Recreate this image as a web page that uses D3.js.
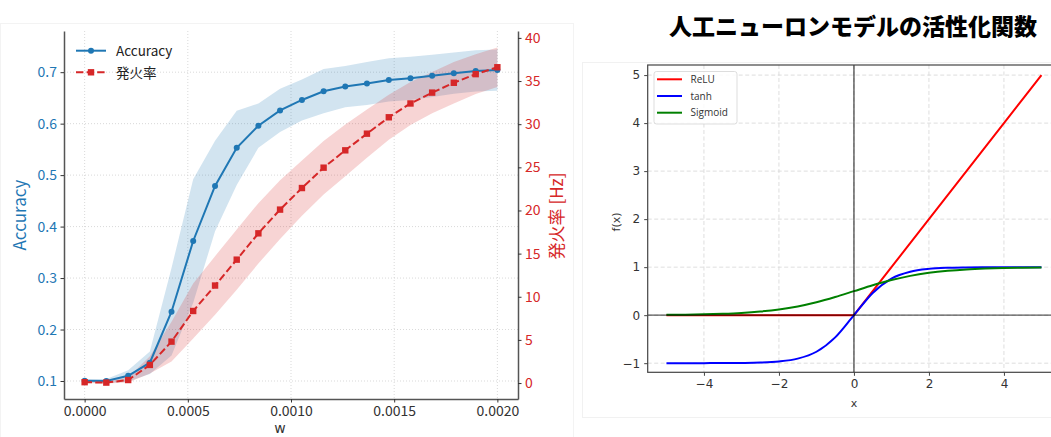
<!DOCTYPE html>
<html>
<head>
<meta charset="utf-8">
<script src="https://cdn.jsdelivr.net/npm/d3@7"></script>
<style>
  body { margin: 0; background: #fff; }
  svg { display: block; }
</style>
</head>
<body>
<div id="chart"></div>
<script>
// DATA //

// left panel: weight w vs accuracy / firing rate
const wValues = [0, 0.000105, 0.000211, 0.000316, 0.000421, 0.000526, 0.000632, 0.000737, 0.000842, 0.000947,
                 0.001053, 0.001158, 0.001263, 0.001368, 0.001474, 0.001579, 0.001684, 0.001789, 0.001895, 0.002];
const accuracy = [0.1006, 0.100, 0.110, 0.1355, 0.2346, 0.372, 0.479, 0.553, 0.596, 0.6256,
                  0.646, 0.663, 0.672, 0.678, 0.685, 0.688, 0.693, 0.698, 0.7025, 0.704];
const accuracyStd = [0.003, 0.004, 0.011, 0.022, 0.085, 0.12, 0.088, 0.072, 0.043, 0.042,
                     0.04, 0.043, 0.04, 0.042, 0.042, 0.042, 0.041, 0.04, 0.04, 0.04];
const firingRate = [0.1, 0.05, 0.35, 2.1, 4.8, 8.35, 11.3, 14.3, 17.35, 20.1,
                    22.6, 24.96, 26.97, 28.9, 30.8, 32.4, 33.66, 34.8, 35.8, 36.6];
const firingStd = [0.1, 0.1, 0.3, 1.0, 2.3, 3.2, 3.4, 3.5, 3.5, 3.4,
                   3.2, 3.1, 3.0, 2.8, 2.6, 2.5, 2.4, 2.4, 2.3, 2.3];

const wTicks = [0, 0.0005, 0.001, 0.0015, 0.002];
const accTicks = [0.1, 0.2, 0.3, 0.4, 0.5, 0.6, 0.7];
const hzTicks = [0, 5, 10, 15, 20, 25, 30, 35, 40];

// right panel: activation functions (values read at x = -5 .. 5, step 0.5)
const actX = [-5, -4.5, -4, -3.5, -3, -2.5, -2, -1.5, -1, -0.5, 0, 0.5, 1, 1.5, 2, 2.5, 3, 3.5, 4, 4.5, 5];
const reluY = [0, 0, 0, 0, 0, 0, 0, 0, 0, 0, 0, 0.5, 1, 1.5, 2, 2.5, 3, 3.5, 4, 4.5, 5];
const tanhY = [-1, -1, -0.999, -0.998, -0.995, -0.987, -0.964, -0.905, -0.762, -0.462, 0,
               0.462, 0.762, 0.905, 0.964, 0.987, 0.995, 0.998, 0.999, 1, 1];
const sigmoidY = [0.007, 0.011, 0.018, 0.029, 0.047, 0.076, 0.119, 0.182, 0.269, 0.378, 0.5,
                  0.622, 0.731, 0.818, 0.881, 0.924, 0.953, 0.971, 0.982, 0.989, 0.993];
const actNames = ["ReLU", "tanh", "Sigmoid"];
const actColors = ["#ff0000", "#0000ff", "#008000"];
const actXTicks = [-4, -2, 0, 2, 4];
const actYTicks = [-1, 0, 1, 2, 3, 4, 5];

const title = "人工ニューロンモデルの活性化関数";

// SVG //
const W = 1051, H = 437;
const svg = d3.select("#chart").append("svg")
    .attr("width", W).attr("height", H)
    .attr("viewBox", `0 0 ${W} ${H}`);

const jp = "'Noto Sans CJK JP', 'Noto Sans', sans-serif";
const blue = "#1f77b4", red = "#d62728";

// faint picture borders
svg.append("rect").attr("x", 0.5).attr("y", 23.5).attr("width", 573).attr("height", 420)
    .attr("fill", "none").attr("stroke", "#f3f3f3");
svg.append("rect").attr("x", 582.5).attr("y", 62.5).attr("width", 480).attr("height", 355)
    .attr("fill", "none").attr("stroke", "#f1f1f1");

// LEFT PANEL //
const L = {left: 64, right: 518, top: 31, bottom: 399};

const xScale = d3.scaleLinear().domain([-0.0001, 0.0021]).range([L.left, L.right]);
const yAcc = d3.scaleLinear().domain([0.065, 0.78]).range([L.bottom, L.top]);
const yHz = d3.scaleLinear().domain([-1.85, 40.8]).range([L.bottom, L.top]);

const left = svg.append("g");

// grid (dotted)
left.append("g").selectAll("line").data(wTicks).join("line")
    .attr("x1", d => xScale(d)).attr("x2", d => xScale(d))
    .attr("y1", L.top).attr("y2", L.bottom)
    .attr("stroke", "#cfcfcf").attr("stroke-width", 0.8).attr("stroke-dasharray", "1,2");
left.append("g").selectAll("line").data(accTicks).join("line")
    .attr("x1", L.left).attr("x2", L.right)
    .attr("y1", d => yAcc(d)).attr("y2", d => yAcc(d))
    .attr("stroke", "#cfcfcf").attr("stroke-width", 0.8).attr("stroke-dasharray", "1,2");

// std bands
const pts = wValues.map((w, i) => ({w, acc: accuracy[i], accSd: accuracyStd[i], hz: firingRate[i], hzSd: firingStd[i]}));

left.append("path").datum(pts)
    .attr("fill", blue).attr("fill-opacity", 0.2)
    .attr("d", d3.area().x(d => xScale(d.w)).y0(d => yAcc(d.acc - d.accSd)).y1(d => yAcc(d.acc + d.accSd)));

left.append("path").datum(pts)
    .attr("fill", red).attr("fill-opacity", 0.2)
    .attr("d", d3.area().x(d => xScale(d.w)).y0(d => yHz(d.hz - d.hzSd)).y1(d => yHz(d.hz + d.hzSd)));

// accuracy line
left.append("path").datum(pts)
    .attr("fill", "none").attr("stroke", blue).attr("stroke-width", 2)
    .attr("d", d3.line().x(d => xScale(d.w)).y(d => yAcc(d.acc)));
left.append("g").selectAll("circle").data(pts).join("circle")
    .attr("cx", d => xScale(d.w)).attr("cy", d => yAcc(d.acc)).attr("r", 3)
    .attr("fill", blue);

// firing rate line
left.append("path").datum(pts)
    .attr("fill", "none").attr("stroke", red).attr("stroke-width", 2)
    .attr("stroke-dasharray", "7.4,3.2")
    .attr("d", d3.line().x(d => xScale(d.w)).y(d => yHz(d.hz)));
left.append("g").selectAll("rect").data(pts).join("rect")
    .attr("x", d => xScale(d.w) - 3.2).attr("y", d => yHz(d.hz) - 3.2)
    .attr("width", 6.4).attr("height", 6.4).attr("fill", red);

// axes
const fmtW = d3.format(".4f");
const gx = left.append("g").attr("transform", `translate(0,${L.bottom})`)
    .call(d3.axisBottom(xScale).tickValues(wTicks).tickFormat(fmtW).tickSize(3.5).tickPadding(4).tickSizeOuter(0));
const gyA = left.append("g").attr("transform", `translate(${L.left},0)`)
    .call(d3.axisLeft(yAcc).tickValues(accTicks).tickFormat(d3.format(".1f")).tickSize(3.5).tickPadding(3.5).tickSizeOuter(0));
const gyH = left.append("g").attr("transform", `translate(${L.right},0)`)
    .call(d3.axisRight(yHz).tickValues(hzTicks).tickFormat(d3.format("d")).tickSize(3.5).tickPadding(3.5).tickSizeOuter(0));

[gx, gyA, gyH].forEach(g => {
    g.select(".domain").attr("stroke", "#555").attr("stroke-width", 1.5);
    g.selectAll(".tick line").attr("stroke", "#333");
    g.selectAll("text").style("font-family", jp).style("font-size", "14px");
});
gx.selectAll("text").attr("fill", "#333");
gyA.selectAll("text").attr("fill", blue);
gyH.selectAll("text").attr("fill", red);

// axis labels
left.append("text").attr("x", 280).attr("y", 433).attr("text-anchor", "middle")
    .style("font-family", "'DejaVu Sans', sans-serif").style("font-size", "14px").attr("fill", "#333").text("w");
left.append("text").attr("transform", "translate(26,215) rotate(-90)").attr("text-anchor", "middle")
    .style("font-family", jp).style("font-size", "17px").attr("fill", blue).text("Accuracy");
left.append("text").attr("transform", "translate(563,216) rotate(-90)").attr("text-anchor", "middle")
    .style("font-family", jp).style("font-size", "17px").attr("fill", red).text("発火率 [Hz]");

// legend
const legL = left.append("g");
legL.append("line").attr("x1", 76).attr("x2", 106).attr("y1", 50.7).attr("y2", 50.7)
    .attr("stroke", blue).attr("stroke-width", 2);
legL.append("circle").attr("cx", 91).attr("cy", 50.7).attr("r", 3).attr("fill", blue);
legL.append("line").attr("x1", 76).attr("x2", 106).attr("y1", 72.3).attr("y2", 72.3)
    .attr("stroke", red).attr("stroke-width", 2).attr("stroke-dasharray", "7.4,3.2");
legL.append("rect").attr("x", 87.8).attr("y", 69.1).attr("width", 6.4).attr("height", 6.4).attr("fill", red);
legL.append("text").attr("x", 116).attr("y", 55.5).style("font-family", jp).style("font-size", "13.5px")
    .attr("fill", "#222").text("Accuracy");
legL.append("text").attr("x", 116).attr("y", 77.5).style("font-family", jp).style("font-size", "13.5px")
    .attr("fill", "#222").text("発火率");

// RIGHT PANEL //
const R = {left: 647.7, right: 1060.2, top: 65, bottom: 372.3};
const xAct = d3.scaleLinear().domain([-5.5, 5.5]).range([R.left, R.right]);
const yAct = d3.scaleLinear().domain([-1.19, 5.21]).range([R.bottom, R.top]);

svg.append("text").attr("x", 853).attr("y", 35).attr("text-anchor", "middle")
    .style("font-family", jp).style("font-size", "23px").style("font-weight", "900")
    .attr("fill", "#000").text(title);

svg.append("clipPath").attr("id", "clipR").append("rect")
    .attr("x", R.left).attr("y", R.top).attr("width", R.right - R.left).attr("height", R.bottom - R.top);

const right = svg.append("g");
const sans = "'DejaVu Sans', sans-serif";

// dashed grid
right.append("g").selectAll("line").data(actXTicks).join("line")
    .attr("x1", d => xAct(d)).attr("x2", d => xAct(d)).attr("y1", R.top).attr("y2", R.bottom)
    .attr("stroke", "#d6d6d6").attr("stroke-width", 0.8).attr("stroke-dasharray", "4,2.5");
right.append("g").selectAll("line").data(actYTicks).join("line")
    .attr("x1", R.left).attr("x2", R.right).attr("y1", d => yAct(d)).attr("y2", d => yAct(d))
    .attr("stroke", "#d6d6d6").attr("stroke-width", 0.8).attr("stroke-dasharray", "4,2.5");

const plotR = right.append("g").attr("clip-path", "url(#clipR)");
const curves = [reluY, tanhY, sigmoidY];
curves.forEach((ys, k) => {
    const data = actX.map((x, i) => [x, ys[i]]);
    plotR.append("path").datum(data)
        .attr("fill", "none").attr("stroke", actColors[k]).attr("stroke-width", 2)
        .attr("d", d3.line().x(d => xAct(d[0])).y(d => yAct(d[1]))
            .curve(k === 0 ? d3.curveLinear : d3.curveMonotoneX));
});

// zero lines
plotR.append("line").attr("x1", R.left).attr("x2", R.right).attr("y1", yAct(0)).attr("y2", yAct(0))
    .attr("stroke", "#000").attr("stroke-opacity", 0.65).attr("stroke-width", 1.4);
plotR.append("line").attr("x1", xAct(0)).attr("x2", xAct(0)).attr("y1", R.top).attr("y2", R.bottom)
    .attr("stroke", "#000").attr("stroke-opacity", 0.65).attr("stroke-width", 1.4);

// frame
right.append("rect").attr("x", R.left).attr("y", R.top)
    .attr("width", R.right - R.left).attr("height", R.bottom - R.top)
    .attr("fill", "none").attr("stroke", "#444").attr("stroke-width", 1.2);

const fmtMinus = d => (d < 0 ? "\u2212" + Math.abs(d) : String(d));
const gxR = right.append("g").attr("transform", `translate(0,${R.bottom})`)
    .call(d3.axisBottom(xAct).tickValues(actXTicks).tickFormat(fmtMinus).tickSize(3.5).tickPadding(4).tickSizeOuter(0));
const gyR = right.append("g").attr("transform", `translate(${R.left},0)`)
    .call(d3.axisLeft(yAct).tickValues(actYTicks).tickFormat(fmtMinus).tickSize(3.5).tickPadding(4).tickSizeOuter(0));
[gxR, gyR].forEach(g => {
    g.select(".domain").remove();
    g.selectAll(".tick line").attr("stroke", "#444");
    g.selectAll("text").style("font-family", sans).style("font-size", "12px").attr("fill", "#333");
});

right.append("text").attr("x", xAct(0)).attr("y", 407).attr("text-anchor", "middle")
    .style("font-family", sans).style("font-size", "11px").attr("fill", "#333").text("x");
right.append("text").attr("transform", "translate(620,222) rotate(-90)").attr("text-anchor", "middle")
    .style("font-family", sans).style("font-size", "11px").attr("fill", "#333").text("f(x)");

// legend
const legR = right.append("g");
legR.append("rect").attr("x", 654).attr("y", 71.5).attr("width", 83).attr("height", 52.5).attr("rx", 2.5)
    .attr("fill", "#fff").attr("fill-opacity", 0.85).attr("stroke", "#d4d4d4").attr("stroke-width", 0.8);
actNames.forEach((name, k) => {
    const y = 79.3 + k * 16.7;
    legR.append("line").attr("x1", 657).attr("x2", 682).attr("y1", y).attr("y2", y)
        .attr("stroke", actColors[k]).attr("stroke-width", 2);
    legR.append("text").attr("x", 690.5).attr("y", y + 3.5)
        .style("font-family", "'Open Sans', sans-serif").style("font-size", "10px").attr("fill", "#333").text(name);
});
</script>
</body>
</html>
